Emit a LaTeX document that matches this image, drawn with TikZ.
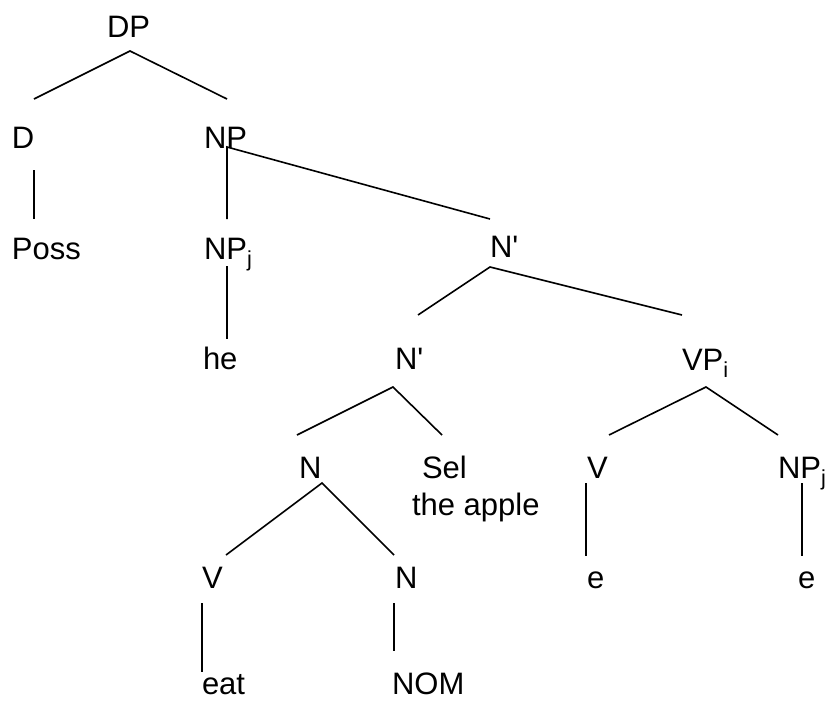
\documentclass[tikz,border=0pt]{standalone}
\usepackage{fontspec}
% family without TeX ligatures, so ' stays a straight quote
\newfontfamily\treefont{Liberation Sans}
\begin{document}
\begin{tikzpicture}[x=1pt,y=-1pt,
  lbl/.style={anchor=base west,inner sep=0pt,outer sep=0pt,
    font=\treefont\fontsize{31}{36}\selectfont},
  branch/.style={draw=black,line width=1.6pt}]
\useasboundingbox (0,0) rectangle (830,702);
% category labels and words
\node[lbl] (DP)   at (107,37)  {DP};
\node[lbl] (D)    at (12,148)  {D};
\node[lbl] (NP)   at (204,148) {NP};
\node[lbl] (Poss) at (12,259)  {Poss};
\node[lbl] (NPj)  at (204,259) {NP\textsubscript{j}};
\node[lbl] (Nb1)  at (490,257) {N'};
\node[lbl] (he)   at (203,369) {he};
\node[lbl] (Nb2)  at (395,369) {N'};
\node[lbl] (VPi)  at (682,370) {VP\textsubscript{i}};
\node[lbl] (N1)   at (299,478) {N};
\node[lbl] (Sel)  at (422,478) {Sel};
\node[lbl] (apple) at (412,515) {the apple};
\node[lbl] (V1)   at (587,478) {V};
\node[lbl] (NPj2) at (778,478) {NP\textsubscript{j}};
\node[lbl] (V2)   at (202,588) {V};
\node[lbl] (N2)   at (395,588) {N};
\node[lbl] (e1)   at (587,588) {e};
\node[lbl] (e2)   at (798,588) {e};
\node[lbl] (eat)  at (202,694) {eat};
\node[lbl] (NOM)  at (392,694) {NOM};
% branch ends
\coordinate (DP-b)   at (130,51);
\coordinate (D-t)    at (34,99);
\coordinate (NP-t)   at (227,99);
\coordinate (D-b)    at (34,170);
\coordinate (Poss-t) at (34,219);
\coordinate (NP-b)   at (227,147);
\coordinate (NPj-t)  at (227,219);
\coordinate (Nb1-t)  at (490,219);
\coordinate (NPj-b)  at (227,266);
\coordinate (he-t)   at (227,339);
\coordinate (Nb1-b)  at (490,267);
\coordinate (Nb2-t)  at (418,315);
\coordinate (VPi-t)  at (682,315);
\coordinate (Nb2-b)  at (393,387);
\coordinate (N1-t)   at (297,435);
\coordinate (Sel-t)  at (442,435);
\coordinate (N1-b)   at (322,483);
\coordinate (V2-t)   at (226,555);
\coordinate (N2-t)   at (394,555);
\coordinate (V2-b)   at (202,603);
\coordinate (eat-t)  at (202,672);
\coordinate (N2-b)   at (394,603);
\coordinate (NOM-t)  at (394,651);
\coordinate (VPi-b)  at (706,387);
\coordinate (V1-t)   at (609,435);
\coordinate (NPj2-t) at (778,435);
\coordinate (V1-b)   at (586,483);
\coordinate (e1-t)   at (586,556);
\coordinate (NPj2-b) at (802,483);
\coordinate (e2-t)   at (802,556);
% branches
\draw[branch] (D-t) -- (DP-b) -- (NP-t);
\draw[branch] (D-b) -- (Poss-t);
\draw[branch] (NPj-t) -- (NP-b) -- (Nb1-t);
\draw[branch] (NPj-b) -- (he-t);
\draw[branch] (Nb2-t) -- (Nb1-b) -- (VPi-t);
\draw[branch] (N1-t) -- (Nb2-b) -- (Sel-t);
\draw[branch] (V2-t) -- (N1-b) -- (N2-t);
\draw[branch] (V2-b) -- (eat-t);
\draw[branch] (N2-b) -- (NOM-t);
\draw[branch] (V1-t) -- (VPi-b) -- (NPj2-t);
\draw[branch] (V1-b) -- (e1-t);
\draw[branch] (NPj2-b) -- (e2-t);
\end{tikzpicture}
\end{document}
